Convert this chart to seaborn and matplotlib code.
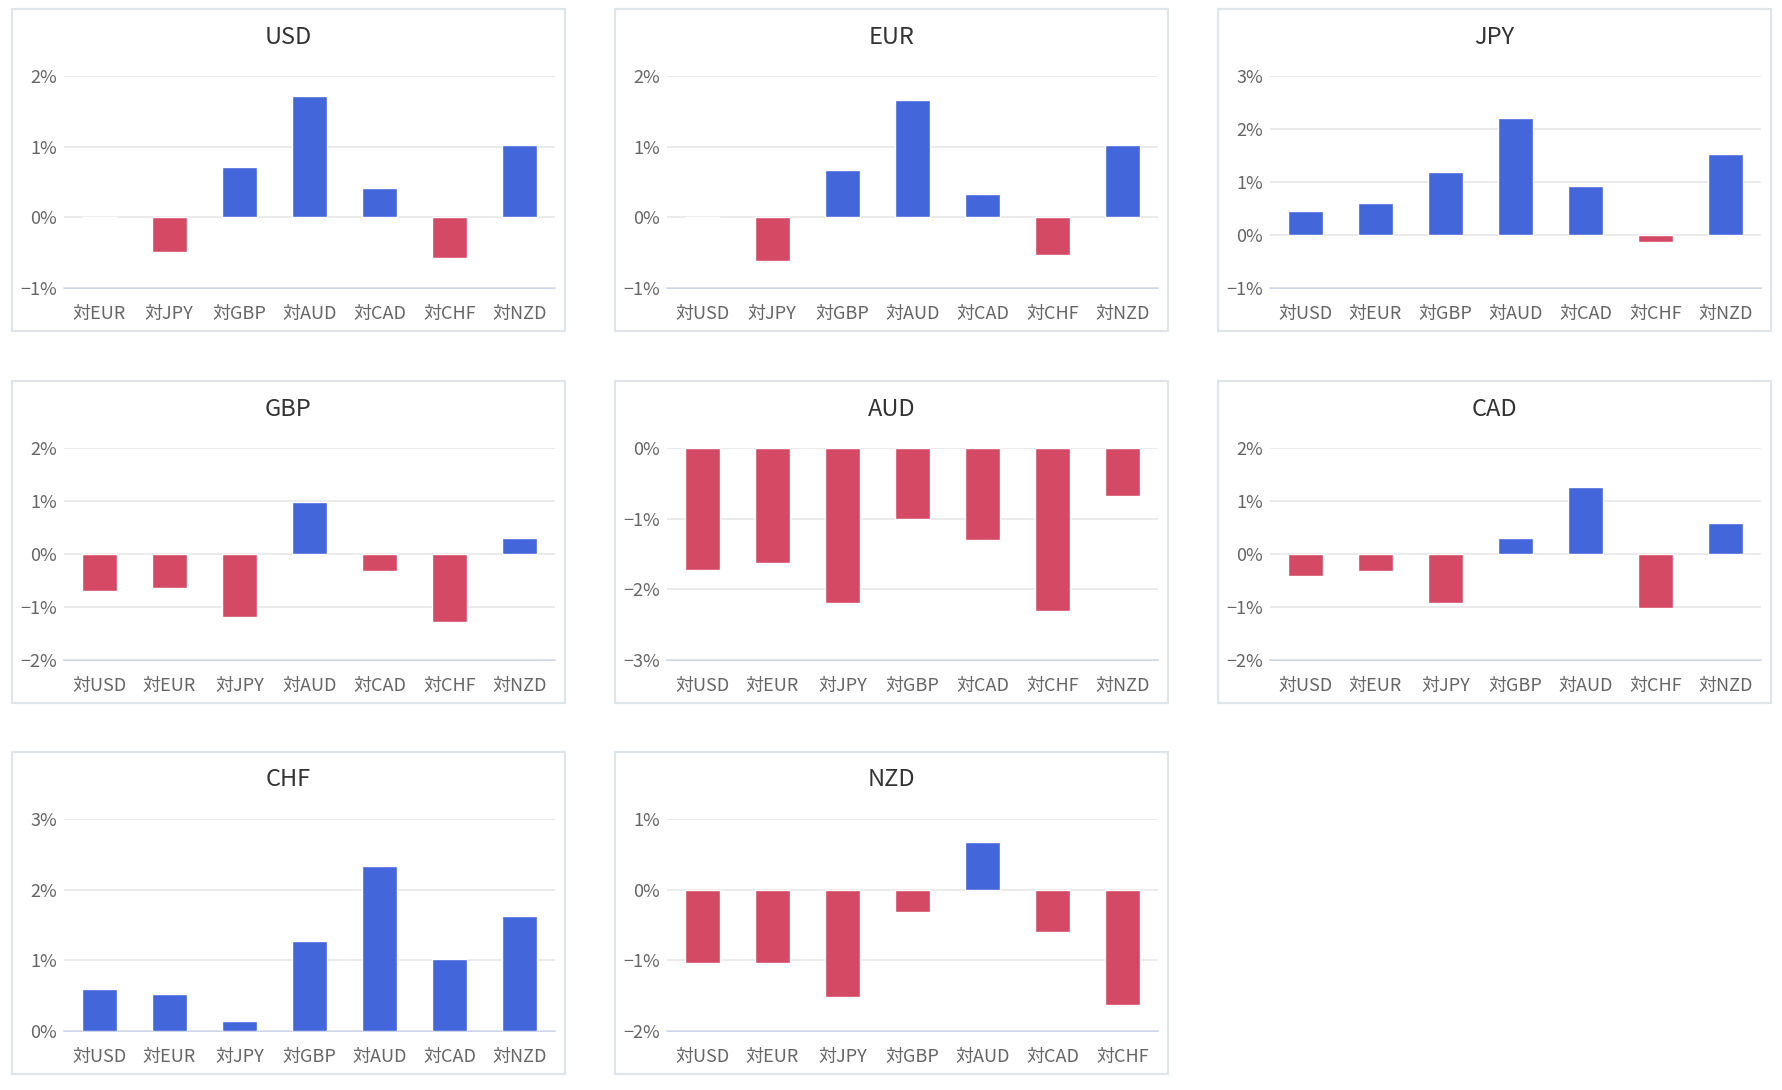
import matplotlib
matplotlib.use("Agg")
import matplotlib.pyplot as plt
import seaborn as sns
import pandas as pd
from matplotlib.patches import Rectangle

# -------------------------
# Data (percent change)
# -------------------------
currencies = ["USD", "EUR", "JPY", "GBP", "AUD", "CAD", "CHF", "NZD"]

usd = [0.00, -0.49, 0.71, 1.72, 0.42, -0.57, 1.02]
eur = [0.00, -0.62, 0.67, 1.66, 0.33, -0.53, 1.02]
jpy = [0.46, 0.61, 1.19, 2.21, 0.92, -0.14, 1.52]
gbp = [-0.70, -0.65, -1.19, 0.98, -0.32, -1.28, 0.31]
aud = [-1.72, -1.63, -2.20, -1.00, -1.30, -2.31, -0.68]
cad = [-0.41, -0.32, -0.92, 0.31, 1.27, -1.01, 0.58]
chf = [0.59, 0.53, 0.14, 1.27, 2.33, 1.02, 1.63]
nzd = [-1.04, -1.04, -1.52, -0.31, 0.67, -0.60, -1.63]

panel_values = [usd, eur, jpy, gbp, aud, cad, chf, nzd]
y_ranges = [(-1, 2), (-1, 2), (-1, 3), (-2, 2), (-3, 0), (-2, 2), (0, 3), (-2, 1)]

BLUE = "#4466db"
RED = "#d44a65"

# -------------------------
# Style
# -------------------------
sns.set_theme(style="white")
plt.rcParams["font.family"] = ["Noto Sans CJK JP", "DejaVu Sans"]

W, H = 1782, 1090
fig = plt.figure(figsize=(W / 100, H / 100), dpi=100)
fig.patch.set_facecolor("white")

col_left = [12, 615, 1218]
row_top = [9, 381, 752]
panel_w, panel_h = 553, 322


def fx(px):
    return px / W


def fy(py):
    return 1 - py / H


for i, base in enumerate(currencies):
    r, c = divmod(i, 3)
    L, T = col_left[c], row_top[r]

    # panel frame
    fig.patches.append(Rectangle((fx(L), fy(T + panel_h)), panel_w / W, panel_h / H,
                                 transform=fig.transFigure, facecolor="white",
                                 edgecolor="#dfe5e8", linewidth=1.6, zorder=-1))

    ax_left, ax_right = L + 52, L + 543
    ax_top, ax_bottom = T + 67, T + 279
    ax = fig.add_axes([fx(ax_left), fy(ax_bottom), (ax_right - ax_left) / W,
                       (ax_bottom - ax_top) / H])
    ax.set_zorder(2)
    ax.set_facecolor("none")

    cats = ["対" + cur for cur in currencies if cur != base]
    vals = panel_values[i]
    df = pd.DataFrame({"pair": cats, "change": vals,
                       "sign": ["up" if v >= 0 else "down" for v in vals]})

    sns.barplot(data=df, x="pair", y="change", hue="sign",
                palette={"up": BLUE, "down": RED}, dodge=False, legend=False,
                width=0.5, saturation=1, edgecolor="white", linewidth=1, ax=ax)

    lo, hi = y_ranges[i]
    ax.set_ylim(lo, hi)
    ticks = list(range(lo, hi + 1))
    ax.set_yticks(ticks)
    ax.set_yticklabels([f"{t}%".replace("-", "−") for t in ticks])
    ax.set_xlim(-0.5, 6.5)

    ax.set_axisbelow(True)
    ax.yaxis.grid(True, color="#e6e6e6", linewidth=1.1)
    ax.axhline(lo, color="#ccd6eb", linewidth=1.4, zorder=0.5, clip_on=False)
    for s in ax.spines.values():
        s.set_visible(False)

    ax.tick_params(axis="y", length=0, pad=5, labelsize=13, labelcolor="#666666")
    ax.tick_params(axis="x", length=0, pad=12, labelsize=13, labelcolor="#666666")
    ax.set_xlabel("")
    ax.set_ylabel("")

    fig.text(fx(L + panel_w / 2), fy(T + 28), base, ha="center", va="center",
             fontsize=17, color="#333333")

fig.savefig("out.png", dpi=100, facecolor="white")
